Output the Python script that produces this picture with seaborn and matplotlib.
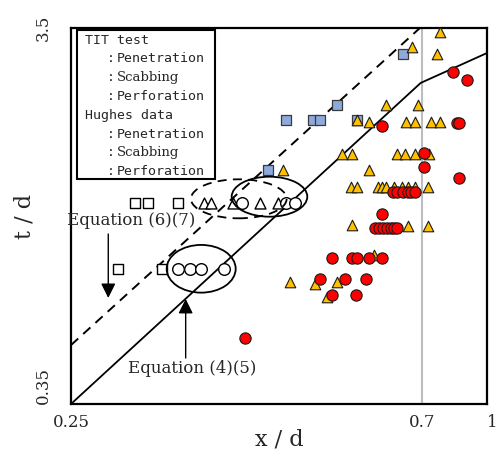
import numpy as np
import seaborn as sns
import matplotlib.pyplot as plt
from matplotlib.patches import Ellipse, Rectangle
from matplotlib.ticker import NullLocator

# Hughes data (filled markers)
hughes_pen_x = [0.641, 0.495, 0.419, 0.457, 0.468, 0.532, 0.398]
hughes_pen_y = [2.98, 2.18, 1.99, 1.99, 1.99, 1.99, 1.47]

hughes_scab_x = [0.765, 0.667, 0.752, 0.597, 0.686, 0.532, 0.558, 0.650, 0.677, 0.730,
                 0.765, 0.504, 0.522, 0.624, 0.647, 0.677, 0.724, 0.416, 0.558, 0.520,
                 0.532, 0.577, 0.586, 0.597, 0.618, 0.638, 0.657, 0.677, 0.719, 0.522,
                 0.657, 0.719, 0.569, 0.425, 0.460, 0.495, 0.478]
hughes_scab_y = [3.42, 3.12, 2.98, 2.18, 2.18, 1.99, 1.97, 1.97, 1.97, 1.97,
                 1.97, 1.615, 1.615, 1.615, 1.615, 1.615, 1.615, 1.47, 1.47, 1.32,
                 1.32, 1.32, 1.32, 1.32, 1.32, 1.32, 1.32, 1.32, 1.32, 1.05,
                 1.04, 1.04, 0.872, 0.737, 0.728, 0.737, 0.673]

hughes_perf_x = [0.820, 0.885, 0.588, 0.836, 0.848, 0.707, 0.707, 0.847, 0.615, 0.626,
                 0.643, 0.655, 0.665, 0.677, 0.588, 0.571, 0.580, 0.590, 0.600, 0.609,
                 0.617, 0.626, 0.486, 0.522, 0.532, 0.558, 0.588, 0.468, 0.510, 0.550,
                 0.486, 0.531, 0.373]
hughes_perf_y = [2.68, 2.55, 1.92, 1.96, 1.96, 1.625, 1.49, 1.40, 1.28, 1.28,
                 1.28, 1.28, 1.28, 1.28, 1.12, 1.03, 1.03, 1.03, 1.03, 1.03,
                 1.03, 1.03, 0.854, 0.854, 0.854, 0.854, 0.854, 0.751, 0.751, 0.751,
                 0.681, 0.681, 0.523]

# TIT test (open markers)
tit_pen_x = [0.285, 0.293, 0.314, 0.275, 0.303]
tit_pen_y = [1.197, 1.197, 1.197, 0.800, 0.800]
tit_scab_x = [0.335, 0.341, 0.361, 0.389, 0.410]
tit_scab_y = [1.197, 1.197, 1.197, 1.197, 1.197]
tit_perf_x = [0.370, 0.419, 0.431, 0.314, 0.323, 0.332, 0.352]
tit_perf_y = [1.197, 1.197, 1.197, 0.800, 0.800, 0.800, 0.800]

# design equations
eq45_x = [0.25, 0.6955, 1.0]
eq45_y = [0.35, 2.50, 3.00]
eq67_x = [0.25, 0.693]
eq67_y = [0.502, 3.5]

x_ticks = [0.25, 0.7, 1]
x_labels = ['0.25', '0.7', '1']
y_ticks = [0.35, 3.5]
y_labels = ['0.35', '3.5']

legend_groups = ['TIT test', 'Hughes data']
legend_items = ['Penetration', 'Scabbing', 'Perforation']

sns.set_style('white')
plt.rcParams['font.family'] = 'DejaVu Serif'

fig = plt.figure(figsize=(5.02, 4.55), dpi=100)
ax = fig.add_axes([0.1414, 0.1121, 0.8281, 0.8264])

p = 0.87
def fwd(v):
    v = np.clip(np.asarray(v, dtype=float), 1e-3, None)
    return -np.power(v, -p)
def inv(v):
    v = np.clip(-np.asarray(v, dtype=float), 1e-6, None)
    return np.power(v, -1 / p)

ax.set_xlim(0.25, 1)
ax.set_ylim(0.35, 3.5)
ax.set_xscale('function', functions=(fwd, inv))
ax.set_yscale('log')
ax.set_xlim(0.25, 1)
ax.set_ylim(0.35, 3.5)
ax.set_autoscale_on(False)

ax.axvline(0.7, color='#bdbdbd', lw=1.5, zorder=1)

sns.lineplot(x=eq67_x, y=eq67_y, color='black', lw=1.4, linestyle=(0, (5, 3.5)),
             estimator=None, sort=False, ax=ax, zorder=2)
sns.lineplot(x=eq45_x, y=eq45_y, color='black', lw=1.3,
             estimator=None, sort=False, ax=ax, zorder=2)

# filled = Hughes, open = TIT
sns.scatterplot(x=hughes_pen_x, y=hughes_pen_y, marker='s', s=56, color='#8eaadb',
                edgecolor='#3a3a3a', linewidth=0.9, ax=ax, zorder=3)
sns.scatterplot(x=hughes_scab_x, y=hughes_scab_y, marker='^', s=58, color='#ffc000',
                edgecolor='#1a1a1a', linewidth=0.8, ax=ax, zorder=4)
sns.scatterplot(x=hughes_perf_x, y=hughes_perf_y, marker='o', s=66, color='#ff0000',
                edgecolor='#1a1a1a', linewidth=0.8, ax=ax, zorder=5)

sns.scatterplot(x=tit_pen_x, y=tit_pen_y, marker='s', s=60, color='white',
                edgecolor='black', linewidth=1.0, ax=ax, zorder=4)
sns.scatterplot(x=tit_scab_x, y=tit_scab_y, marker='^', s=62, color='white',
                edgecolor='black', linewidth=1.0, ax=ax, zorder=4)
sns.scatterplot(x=tit_perf_x, y=tit_perf_y, marker='o', s=70, color='white',
                edgecolor='black', linewidth=1.0, ax=ax, zorder=4)

# ellipses grouping the TIT results
ax.add_patch(Ellipse((0.4037, 0.5457), 0.2302, 0.1037, transform=ax.transAxes,
                     fill=False, ec='black', lw=1.3, ls=(0, (5, 3.5)), zorder=6))
ax.add_patch(Ellipse((0.4775, 0.5513), 0.1819, 0.1064, transform=ax.transAxes,
                     fill=False, ec='black', lw=1.3, zorder=6))
ax.add_patch(Ellipse((0.3132, 0.3596), 0.166, 0.1269, transform=ax.transAxes,
                     fill=False, ec='black', lw=1.3, zorder=6))

# equation labels with arrows
ax.text(0.1455, 0.4867, 'Equation (6)(7)', transform=ax.transAxes, fontsize=12,
        ha='center', va='center', zorder=7)
ax.annotate('', xy=(0.0897, 0.282), xytext=(0.0897, 0.452), xycoords='axes fraction',
            arrowprops=dict(arrowstyle='-|>', color='black', lw=1.0, mutation_scale=22,
                            shrinkA=0, shrinkB=0), zorder=7)
ax.text(0.2923, 0.0957, 'Equation (4)(5)', transform=ax.transAxes, fontsize=12,
        ha='center', va='center', zorder=7)
ax.annotate('', xy=(0.2759, 0.2793), xytext=(0.2759, 0.1223), xycoords='axes fraction',
            arrowprops=dict(arrowstyle='-|>', color='black', lw=1.0, mutation_scale=22,
                            shrinkA=0, shrinkB=0), zorder=7)

# legend box (text only, as in the original)
ax.add_patch(Rectangle((0.0137, 0.5984), 0.3327, 0.3963, transform=ax.transAxes,
                       fc='white', ec='black', lw=1.5, zorder=8))
mono = 'DejaVu Sans Mono'
row = 0
for grp in legend_groups:
    fy = 0.968 - 0.05 * row
    ax.text(0.034, fy, grp, transform=ax.transAxes, family=mono, fontsize=9.5,
            va='center', ha='left', zorder=9)
    row += 1
    for item in legend_items:
        fy = 0.968 - 0.05 * row
        ax.text(0.086, fy, ':', transform=ax.transAxes, family=mono, fontsize=9.5,
                va='center', ha='left', zorder=9)
        fam = 'DejaVu Serif' if item == 'Scabbing' else mono
        ax.text(0.110, fy, item, transform=ax.transAxes, family=fam, fontsize=9.5,
                va='center', ha='left', zorder=9)
        row += 1

ax.set_xticks(x_ticks, labels=x_labels)
ax.set_yticks(y_ticks, labels=y_labels)
ax.xaxis.set_minor_locator(NullLocator())
ax.yaxis.set_minor_locator(NullLocator())
ax.set_xlim(0.25, 1)
ax.set_ylim(0.35, 3.5)
ax.tick_params(axis='both', length=0, labelsize=12)
ax.tick_params(axis='x', pad=7)
ax.tick_params(axis='y', pad=14)
for lab in ax.get_yticklabels():
    lab.set_rotation(90)
    if lab.get_text() == '0.35':
        lab.set_va('bottom')
    else:
        lab.set_va('center')
for lab in ax.get_xticklabels():
    if lab.get_text() == '1':
        lab.set_ha('left')

ax.set_xlabel('x / d', fontsize=16)
ax.set_ylabel('t / d', fontsize=16)
ax.xaxis.set_label_coords(0.5, -0.066)
ax.yaxis.set_label_coords(-0.085, 0.5)

for sp in ax.spines.values():
    sp.set_color('black')
    sp.set_linewidth(1.6)
ax.grid(False)

fig.savefig('out.png', dpi=100)
